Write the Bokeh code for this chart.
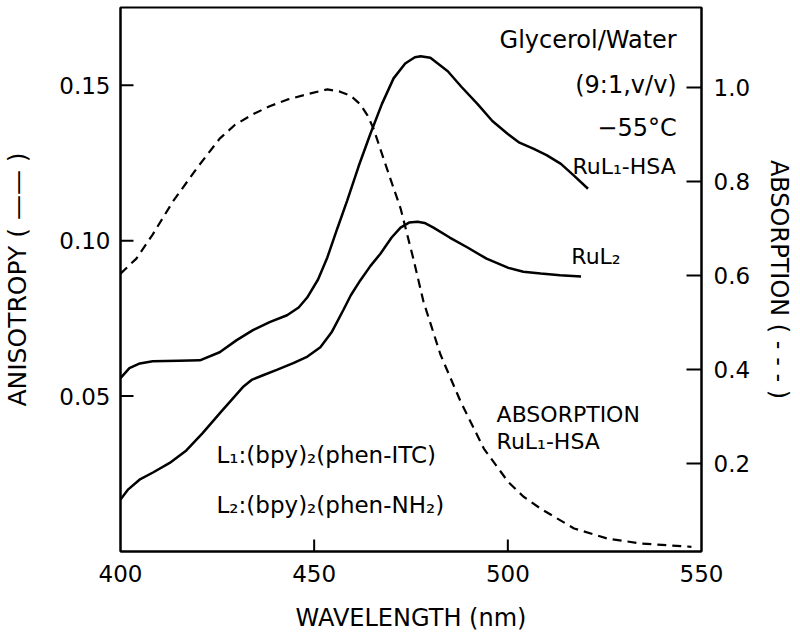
from bokeh.plotting import figure
from bokeh.models import Range1d, LinearAxis, FixedTicker, PrintfTickFormatter, Label
from bokeh.embed import file_html
from bokeh.resources import INLINE

# ---- data ----
wl_rul1 = [400.0, 402.3, 405.0, 408.3, 415.0, 420.5, 425.6, 430.0, 434.2, 438.5, 443.0, 446.0,
           448.2, 451.0, 453.4, 456.0, 458.5, 461.5, 464.5, 467.5, 470.5, 473.5, 476.0, 477.5,
           480.0, 484.5, 488.0, 492.2, 496.0, 500.0, 503.0, 506.7, 510.0, 513.7, 517.0, 520.7]
anis_rul1 = [0.0558, 0.0590, 0.0605, 0.0612, 0.0614, 0.0615, 0.0641, 0.0680, 0.0712, 0.0738, 0.0760, 0.0785,
             0.0817, 0.0875, 0.0946, 0.1040, 0.1128, 0.1240, 0.1343, 0.1440, 0.1522, 0.1570, 0.1590, 0.1593,
             0.1588, 0.1545, 0.1495, 0.1439, 0.1385, 0.1343, 0.1315, 0.1295, 0.1275, 0.1247, 0.1210, 0.1167]

wl_rul2 = [400.0, 402.0, 404.9, 408.5, 412.7, 417.0, 421.2, 426.0, 431.6, 434.0, 436.8, 440.5,
           444.6, 448.0, 451.6, 454.5, 457.5, 459.5, 461.9, 464.5, 467.1, 470.0, 472.3, 474.5,
           476.7, 478.5, 480.8, 485.0, 489.6, 494.5, 500.0, 504.0, 508.5, 513.5, 518.9]
anis_rul2 = [0.0167, 0.0200, 0.0231, 0.0255, 0.0285, 0.0325, 0.0381, 0.0450, 0.0529, 0.0553, 0.0567, 0.0585,
             0.0606, 0.0625, 0.0657, 0.0705, 0.0776, 0.0825, 0.0872, 0.0918, 0.0958, 0.1010, 0.1042, 0.1058,
             0.1061, 0.1057, 0.1042, 0.1010, 0.0978, 0.0942, 0.0913, 0.0900, 0.0894, 0.0889, 0.0885]

wl_abs = [400.0, 404.1, 408.3, 413.5, 419.7, 425.6, 429.5, 434.2, 438.5, 443.0, 448.0, 453.4,
          456.7, 459.5, 461.9, 463.8, 465.3, 467.9, 470.0, 472.3, 475.6, 478.2, 482.6, 487.8,
          493.8, 500.0, 504.0, 508.5, 517.1, 525.9, 534.5, 547.4]
absorb = [0.604, 0.636, 0.687, 0.757, 0.828, 0.891, 0.920, 0.943, 0.960, 0.974, 0.985, 0.996,
          0.991, 0.982, 0.964, 0.940, 0.913, 0.849, 0.798, 0.743, 0.636, 0.545, 0.432, 0.332,
          0.232, 0.162, 0.130, 0.104, 0.062, 0.040, 0.030, 0.023]

x_ticks = [400, 450, 500, 550]
left_ticks = [0.05, 0.10, 0.15]
right_ticks = [0.2, 0.4, 0.6, 0.8, 1.0]

FONT = "DejaVu Sans"
X0, X1 = 400, 550
Y0, Y1 = 0.0, 0.175
R0, R1 = 0.013, 1.17
FW, FH = 581, 544

p = figure(frame_width=FW, frame_height=FH,
           x_range=Range1d(X0, X1), y_range=Range1d(Y0, Y1),
           output_backend="svg", toolbar_location=None,
           min_border_left=113, min_border_right=88, min_border_top=7, min_border_bottom=74,
           x_axis_label="WAVELENGTH (nm)", y_axis_label="ANISOTROPY ( —— )")
p.extra_y_ranges = {"abs": Range1d(R0, R1)}

p.xgrid.visible = False
p.ygrid.visible = False
p.outline_line_color = "black"
p.outline_line_width = 2
p.background_fill_color = "white"
p.border_fill_color = "white"

right_axis = LinearAxis(y_range_name="abs", axis_label="ABSORPTION ( - - - )")
p.add_layout(right_axis, "right")

for ax in [p.xaxis[0], p.yaxis[0], right_axis]:
    ax.axis_line_width = 2
    ax.axis_line_color = "black"
    ax.major_tick_line_color = None
    ax.major_tick_in = 0
    ax.major_tick_out = 0
    ax.minor_tick_line_color = None
    ax.major_label_text_font = FONT
    ax.major_label_text_font_size = "23px"
    ax.major_label_text_color = "black"
    ax.axis_label_text_font = FONT
    ax.axis_label_text_font_style = "normal"
    ax.axis_label_text_color = "black"

p.xaxis[0].ticker = FixedTicker(ticks=x_ticks)
p.xaxis[0].formatter = PrintfTickFormatter(format="%d")
p.xaxis[0].major_label_standoff = 13
p.xaxis[0].axis_label_standoff = 19
p.xaxis[0].axis_label_text_font_size = "24px"

p.yaxis[0].ticker = FixedTicker(ticks=left_ticks)
p.yaxis[0].formatter = PrintfTickFormatter(format="%.2f")
p.yaxis[0].major_label_standoff = 10
p.yaxis[0].axis_label_standoff = 24
p.yaxis[0].axis_label_text_font_size = "25px"

right_axis.ticker = FixedTicker(ticks=right_ticks)
right_axis.formatter = PrintfTickFormatter(format="%.1f")
right_axis.major_label_standoff = 12
right_axis.axis_label_standoff = 12
right_axis.axis_label_text_font_size = "24px"

# inward tick marks (lengths in px converted to data units)
kx = (X1 - X0) / FW
ky = (Y1 - Y0) / FH
p.segment(x0=[X0] * len(left_ticks), y0=left_ticks, x1=[X0 + 13 * kx] * len(left_ticks), y1=left_ticks,
          line_color="black", line_width=2)
p.segment(x0=[X1 - 15 * kx] * len(right_ticks), y0=right_ticks, x1=[X1] * len(right_ticks), y1=right_ticks,
          line_color="black", line_width=2, y_range_name="abs")
inner_x = x_ticks[1:-1]
p.segment(x0=inner_x, y0=[Y0] * len(inner_x), x1=inner_x, y1=[Y0 + 12 * ky] * len(inner_x),
          line_color="black", line_width=2)

p.line(wl_rul1, anis_rul1, line_color="black", line_width=2.5)
p.line(wl_rul2, anis_rul2, line_color="black", line_width=2.5)
p.line(wl_abs, absorb, line_color="black", line_width=2.2, line_dash="9 6", y_range_name="abs")

def lab(x, y, t, align="left", size="22px"):
    p.add_layout(Label(x=x, y=y, text=t, text_align=align, text_baseline="alphabetic",
                       text_font=FONT, text_font_size=size, text_color="black"))

lab(543.6, 0.1647, "Glycerol/Water", "right", "24px")
lab(543.6, 0.1502, "(9:1,v/v)", "right", "24px")
lab(543.6, 0.1361, "−55°C", "right", "24px")
lab(516.7, 0.1238, "RuL₁-HSA")
lab(516.4, 0.0949, "RuL₂")
lab(497.1, 0.0441, "ABSORPTION")
lab(497.1, 0.0354, "RuL₁-HSA")
lab(424.8, 0.0312, "L₁:(bpy)₂(phen-ITC)", size="23px")
lab(424.8, 0.0151, "L₂:(bpy)₂(phen-NH₂)", size="23px")

open("out.html", "w").write(file_html(p, INLINE))
